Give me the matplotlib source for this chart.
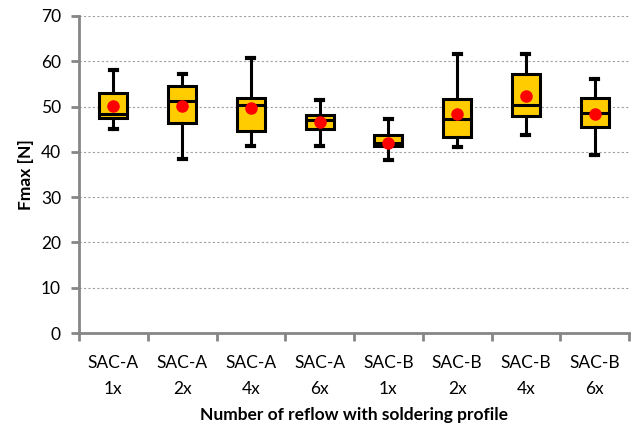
import matplotlib
matplotlib.use("Agg")
import matplotlib.pyplot as plt
import numpy as np

categories = ["SAC-A\n1x", "SAC-A\n2x", "SAC-A\n4x", "SAC-A\n6x",
              "SAC-B\n1x", "SAC-B\n2x", "SAC-B\n4x", "SAC-B\n6x"]
whisker_low = [45.0, 38.5, 41.2, 41.2, 38.2, 41.0, 43.7, 39.3]
q1 = [47.5, 46.3, 44.5, 45.0, 41.3, 43.3, 48.0, 45.4]
median = [48.4, 51.2, 50.3, 47.1, 41.9, 47.3, 50.3, 48.6]
q3 = [53.1, 54.5, 52.0, 48.1, 43.8, 51.6, 57.3, 51.9]
whisker_high = [58.1, 57.2, 60.7, 51.4, 47.2, 61.5, 61.7, 56.0]
mean = [50.1, 50.1, 49.6, 46.6, 42.0, 48.3, 52.3, 48.3]
yticks = [0, 10, 20, 30, 40, 50, 60, 70]

plt.rcParams['font.family'] = ['Lato', 'DejaVu Sans']

fig = plt.figure(figsize=(6.34, 4.23), dpi=100)
ax = fig.add_axes([79/634, 1 - 333/423, (629-79)/634, (333-16)/423])

stats = []
for i in range(len(categories)):
    stats.append(dict(whislo=whisker_low[i], q1=q1[i], med=median[i], q3=q3[i],
                      whishi=whisker_high[i], mean=mean[i], fliers=[]))
pos = np.arange(1, len(categories) + 1)
ax.bxp(stats, positions=pos, widths=0.41, patch_artist=True, showmeans=True,
       showfliers=False,
       boxprops=dict(facecolor="#FFCC00", edgecolor="black", linewidth=2.2),
       medianprops=dict(color="black", linewidth=2.2),
       whiskerprops=dict(color="black", linewidth=2.2),
       capprops=dict(color="black", linewidth=3.0),
       capwidths=0.1,
       meanprops=dict(marker="o", markerfacecolor="#FF0000", markeredgecolor="#FF0000",
                      markersize=8))

ax.set_xlim(0.5, len(categories) + 0.5)
ax.set_ylim(0, 70)
ax.set_yticks(yticks)
ax.set_yticklabels([str(v) for v in yticks])
ax.set_xticks(pos)
ax.set_xticklabels(categories, linespacing=1.75)
ax.set_xticks(np.arange(0.5, len(categories) + 1.0, 1.0), minor=True)
ax.tick_params(axis="x", which="major", length=0, pad=16, labelsize=12.5)
ax.tick_params(axis="x", which="minor", length=6, width=2, color="#868686", direction="out")
ax.tick_params(axis="y", length=6, width=2, color="#868686", labelsize=12.5, pad=7)

ax.grid(axis="y", linestyle=(0, (2, 2)), color="#A0A0A0", linewidth=0.8)
ax.set_axisbelow(True)
for s in ["top", "right"]:
    ax.spines[s].set_visible(False)
for s in ["left", "bottom"]:
    ax.spines[s].set_color("#868686")
    ax.spines[s].set_linewidth(2)

ax.set_ylabel("Fmax [N]", fontsize=12.5, fontweight="bold", labelpad=5)
ax.set_xlabel("Number of reflow with soldering profile", fontsize=12.5, fontweight="bold", labelpad=7)

fig.savefig("out.png", dpi=100)
